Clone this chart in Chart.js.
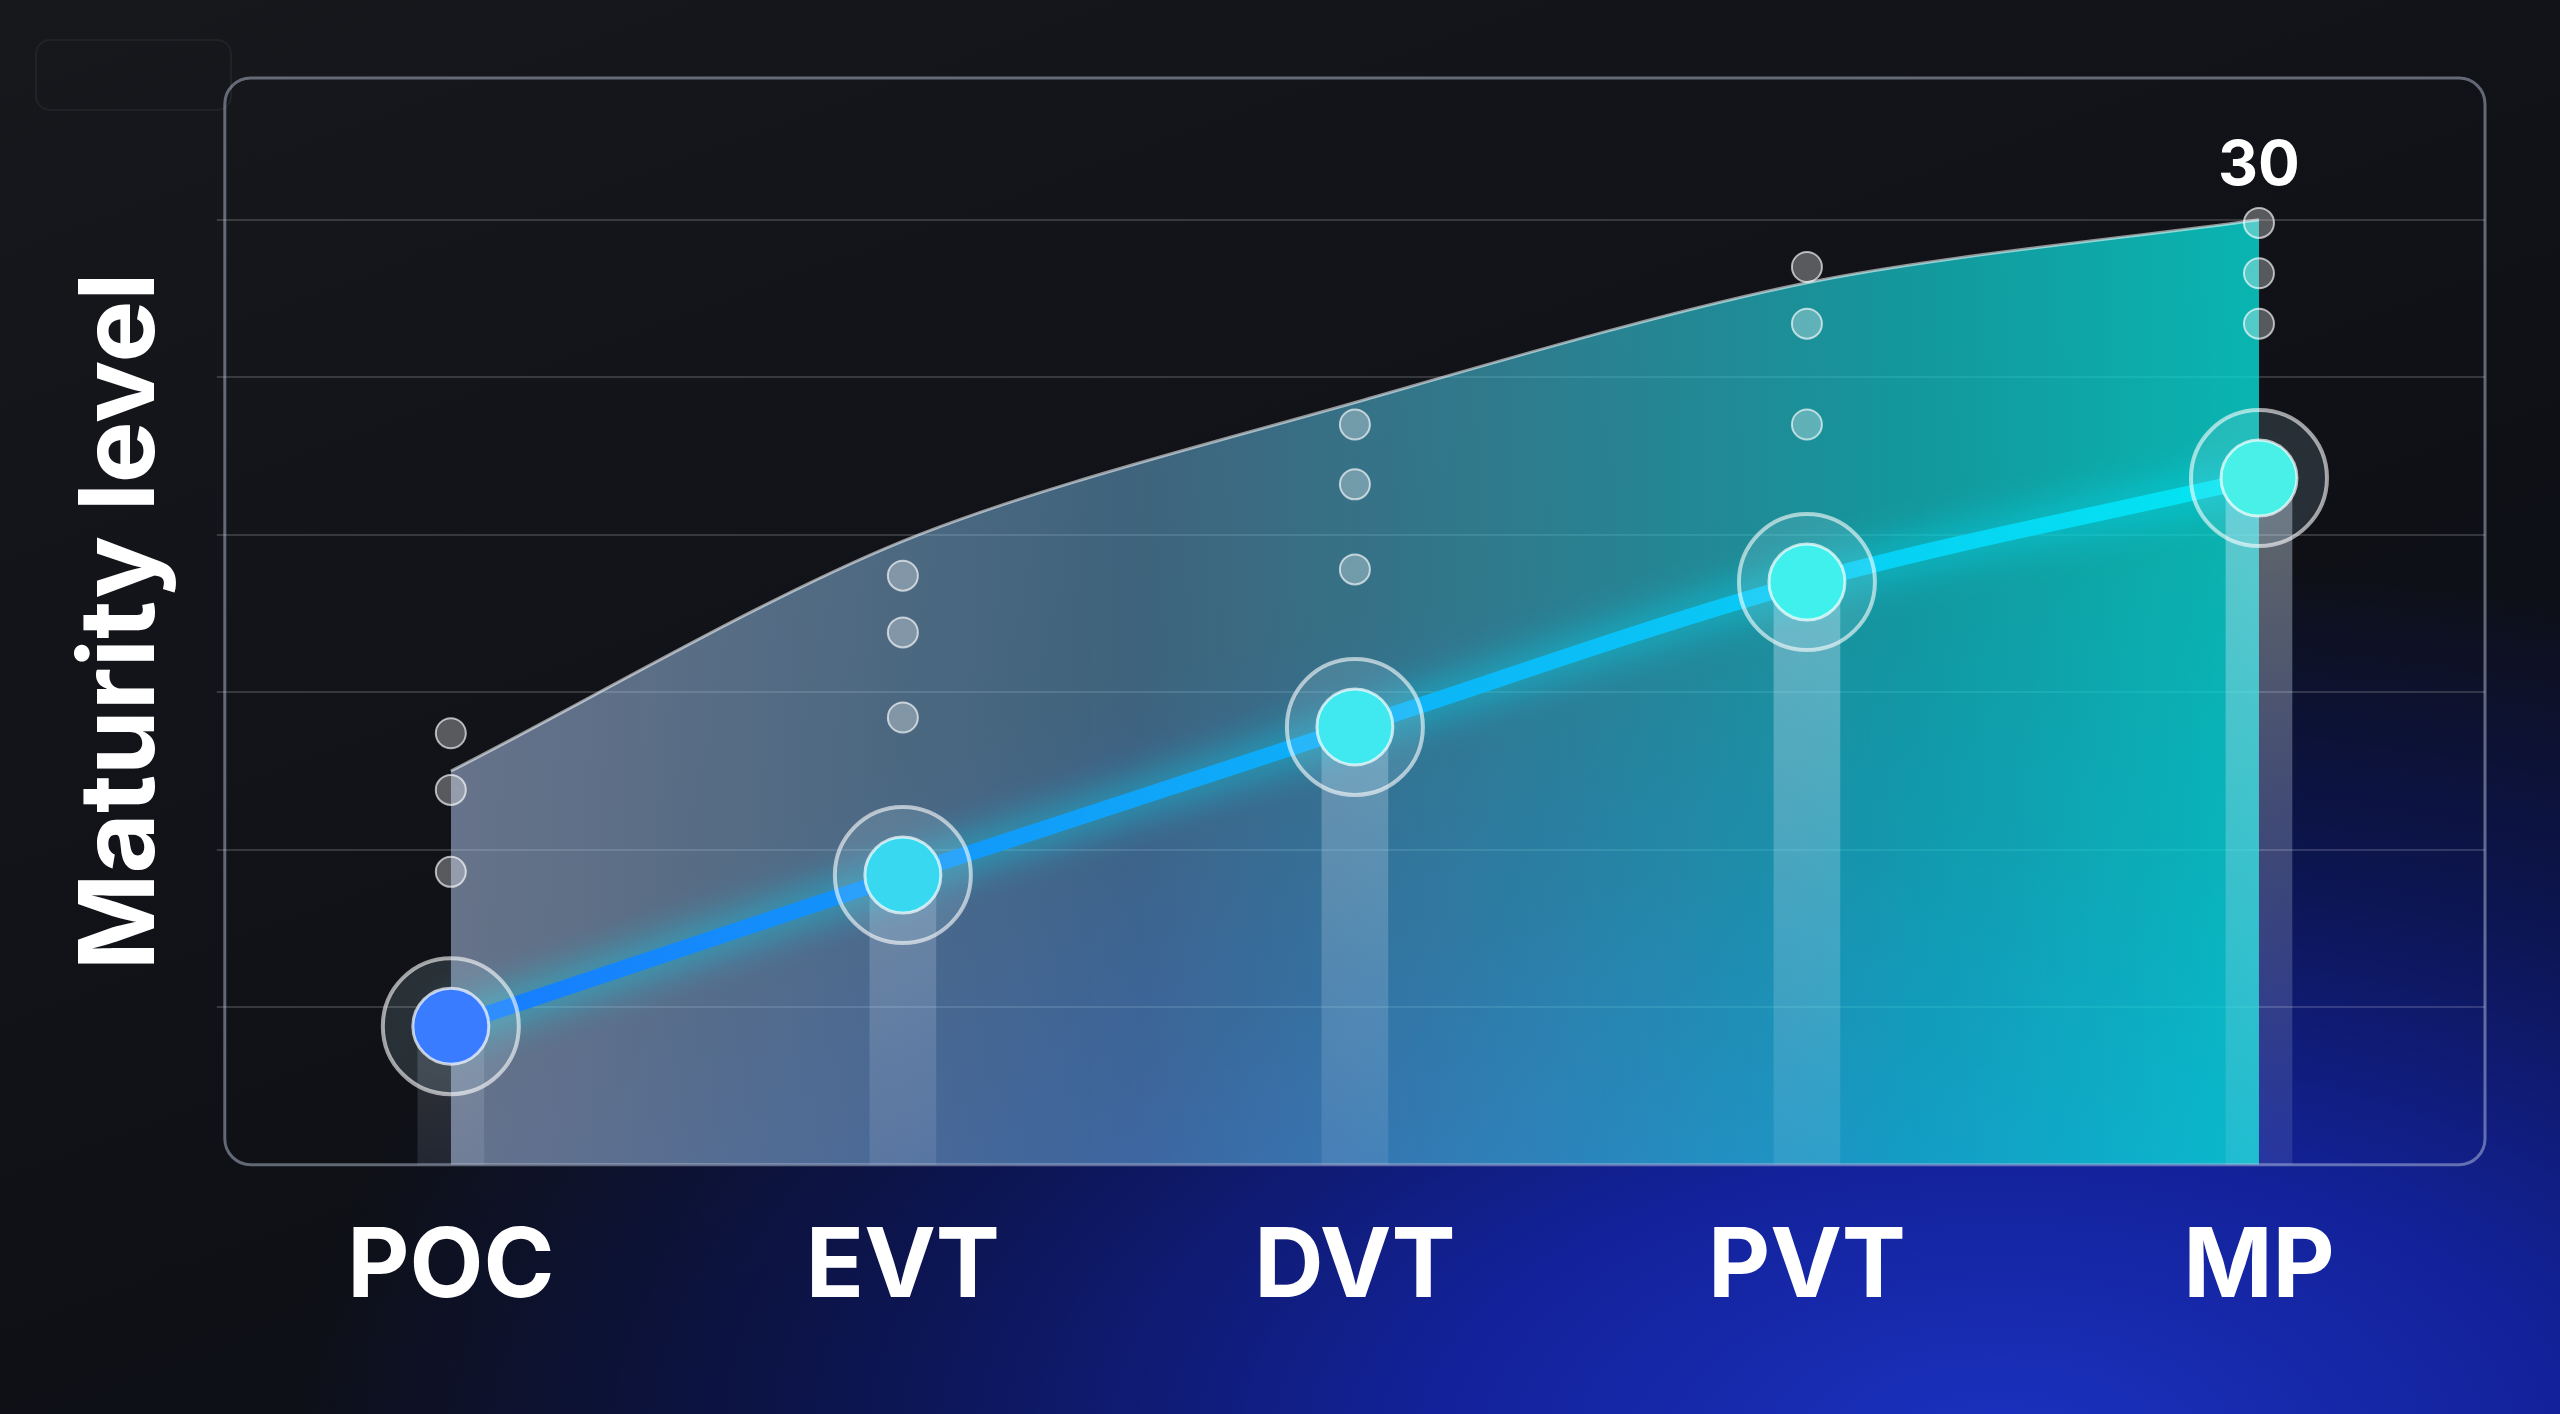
<!DOCTYPE html>
<html><head><meta charset="utf-8">
<script src="https://cdn.jsdelivr.net/npm/chart.js@4/dist/chart.umd.min.js"></script>
<style>
html,body{margin:0;padding:0;width:2560px;height:1414px;overflow:hidden;
background:radial-gradient(ellipse 1900px 1000px at 2000px 1450px,#1b32c0 0%,#13229a 30%,#0c1550 60%,rgba(10,12,30,0) 90%),linear-gradient(160deg,#16181c 0%,#0e1016 60%,#0a0d22 100%);}
#c{display:block}
</style></head><body>
<canvas id="c" width="2560" height="1414"></canvas>
<script>
const categories=["POC","EVT","DVT","PVT","MP"];
const lineValues=[4.4,9.2,13.9,18.5,21.8];
const upperValues=[12.5,19.8,24.2,28.0,30.0];
const dotsA=[13.7,18.7,23.5,28.5,29.9];
const dotsB=[11.9,16.9,21.6,26.7,28.3];
const dotsC=[9.3,14.2,18.9,23.5,26.7];
const yTicks=[5,10,15,20,25,30];
const topLabel="30";

const F="Inter, Roboto, 'DejaVu Sans', sans-serif";
function dots(){const r=[];categories.forEach((c,i)=>{[dotsA,dotsB,dotsC].forEach(a=>r.push({x:c,y:a[i]}));});return r;}

const frame={id:'frame',
 beforeDatasetsDraw(ch){const {ctx}=ch;ctx.save();
  ctx.strokeStyle='rgba(255,255,255,0.05)';ctx.lineWidth=2;ctx.beginPath();ctx.roundRect(36,40,195,70,14);ctx.stroke();ctx.restore();},
 afterDatasetsDraw(ch){const {ctx,chartArea:a}=ch;ctx.save();
  ctx.strokeStyle='rgba(200,210,230,0.45)';ctx.lineWidth=3;ctx.beginPath();ctx.roundRect(a.left,a.top,a.right-a.left,a.bottom-a.top,26);ctx.stroke();
  const m=ch.getDatasetMeta(0).data[4];ctx.fillStyle='#fff';ctx.font='bold 62px '+F;ctx.textAlign='center';ctx.textBaseline='bottom';
  ctx.fillText(topLabel,m.x,m.y-22);ctx.restore();}};
const glow={id:'glow',beforeDatasetDraw(ch,args){if(args.index===2){ch.ctx.save();ch.ctx.shadowColor='rgba(0,230,255,0.9)';ch.ctx.shadowBlur=40;}},
 afterDatasetDraw(ch,args){if(args.index===2)ch.ctx.restore();}};

function areaGrad(c){const a=c.chart.chartArea;if(!a)return 'rgba(0,0,0,0)';const g=c.chart.ctx.createLinearGradient(a.left,0,a.right,0);
 g.addColorStop(0,'rgba(200,205,240,0.55)');g.addColorStop(0.4,'rgba(110,180,225,0.5)');g.addColorStop(0.75,'rgba(20,210,215,0.7)');g.addColorStop(1,'rgba(0,235,220,0.85)');return g;}
function lineGrad(c){const a=c.chart.chartArea;if(!a)return '#0af';const g=c.chart.ctx.createLinearGradient(a.left,0,a.right,0);
 g.addColorStop(0,'#1a6dff');g.addColorStop(1,'#00f5f0');return g;}
function barGrad(c){const a=c.chart.chartArea;if(!a)return '#fff';const g=c.chart.ctx.createLinearGradient(0,a.top+300,0,a.bottom);
 g.addColorStop(0,'rgba(220,235,255,0.45)');g.addColorStop(1,'rgba(220,235,255,0.1)');return g;}

new Chart(document.getElementById('c'),{
 data:{labels:categories,datasets:[
  {type:'line',data:upperValues,fill:'origin',backgroundColor:areaGrad,borderColor:'rgba(255,255,255,0.55)',borderWidth:3,tension:0.3,pointRadius:0,order:5},
  {type:'bar',data:lineValues,backgroundColor:barGrad,barThickness:66,order:4},
  {type:'line',data:lineValues,borderColor:lineGrad,borderWidth:16,cubicInterpolationMode:'monotone',pointRadius:0,fill:false,order:3},
  {type:'line',data:lineValues,showLine:false,pointRadius:68,pointBackgroundColor:'rgba(200,240,255,0.14)',pointBorderColor:'rgba(255,255,255,0.6)',pointBorderWidth:4,order:2},
  {type:'line',data:lineValues,showLine:false,pointRadius:38,pointBackgroundColor:['#3a7cff','#38d8f0','#40e8f0','#40f0ec','#48f0e8'],pointBorderColor:'rgba(255,255,255,0.7)',pointBorderWidth:3,order:1},
  {type:'scatter',data:dots(),pointRadius:15,pointBackgroundColor:'rgba(255,255,255,0.3)',pointBorderColor:'rgba(255,255,255,0.65)',pointBorderWidth:2,order:0}
 ]},
 options:{responsive:false,animation:false,
  layout:{padding:{left:60,right:75,top:78,bottom:50}},
  plugins:{legend:{display:false},tooltip:{enabled:false}},
  scales:{
   x:{type:'category',offset:true,grid:{display:false},border:{display:false},
      ticks:{color:'#fff',font:{family:F,size:96,weight:'bold'},padding:38}},
   y:{min:0,max:34.5,afterBuildTicks(ax){ax.ticks=yTicks.map(v=>({value:v}));},
      grid:{color:'rgba(255,255,255,0.16)',lineWidth:2},border:{display:false},
      ticks:{display:false},
      title:{display:true,text:'Maturity level',color:'#fff',font:{family:F,size:104,weight:'bold'},padding:{top:0,bottom:32}}}
  }},
 plugins:[frame,glow]
});
</script></body></html>
